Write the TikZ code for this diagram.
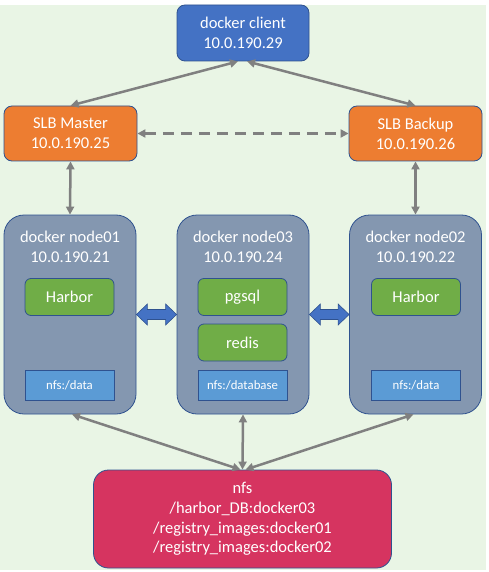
\documentclass[tikz,border=0pt]{standalone}
\usepackage{fontspec}
\setmainfont{Carlito}
\usetikzlibrary{arrows.meta,calc}
\definecolor{bgc}{RGB}{233,245,229}
\definecolor{bordc}{RGB}{47,82,143}
\definecolor{clientc}{RGB}{68,114,196}
\definecolor{slbc}{RGB}{237,125,49}
\definecolor{nodec}{RGB}{132,151,176}
\definecolor{greenc}{RGB}{112,173,71}
\definecolor{nfsbluec}{RGB}{91,155,213}
\definecolor{nfsc}{RGB}{214,52,96}
\definecolor{arrc}{RGB}{128,128,128}
\begin{document}
\begin{tikzpicture}[x=1pt,y=-1pt,
  box/.style={draw=bordc, line width=0.8pt, text=white, align=center, inner sep=0pt,
    font=\fontsize{16.5}{19.8}\selectfont},
  client/.style={box, fill=clientc, rounded corners=8pt, minimum width=132pt, minimum height=56pt},
  slb/.style={box, fill=slbc, rounded corners=8pt, minimum width=133pt, minimum height=55pt},
  host/.style={box, fill=nodec, rounded corners=20pt, minimum width=132pt, minimum height=199pt},
  title/.style={text=white, align=center, inner sep=0pt, font=\fontsize{16.5}{20.5}\selectfont},
  svc/.style={box, fill=greenc, rounded corners=6pt, minimum width=89pt, minimum height=37pt},
  mnt/.style={box, fill=nfsbluec, minimum width=89pt, minimum height=30pt, font=\fontsize{12.8}{15}\selectfont},
  store/.style={box, fill=nfsc, rounded corners=15pt, minimum width=298pt, minimum height=98pt},
  link/.style={draw=arrc, line width=2.5pt, {Triangle[length=8pt,width=8pt]}-{Triangle[length=8pt,width=8pt]}},
  blockarr/.style={draw=bordc, line width=0.6pt, fill=clientc, line join=miter}
]
\useasboundingbox (0,0) rectangle (488,572);
\fill[white] (0,0) rectangle (488,572);
\fill[bgc] (0,5) rectangle (486,570);

\node[client] (client) at (243,33) {docker client\\10.0.190.29};
\node[slb] (master) at (70.5,133.5) {SLB Master\\10.0.190.25};
\node[slb] (backup) at (415.5,133.5) {SLB Backup\\10.0.190.26};

\node[host] (n1) at (70,314.5) {};
\node[host] (n3) at (243,314.5) {};
\node[host] (n2) at (415.5,314.5) {};
\node[title] (t1) at (70,247) {docker node01\\10.0.190.21};
\node[title] (t3) at (243,247) {docker node03\\10.0.190.24};
\node[title] (t2) at (415.5,247) {docker node02\\10.0.190.22};

\node[svc] (harbor1) at (69.5,297) {Harbor};
\node[svc] (pgsql) at (242.5,297) {pgsql};
\node[svc] (redis) at (242.5,342.5) {redis};
\node[svc] (harbor2) at (416,297) {Harbor};

\node[mnt] (d1) at (69.5,385) {nfs:/data};
\node[mnt] (db) at (242.5,385) {nfs:/database};
\node[mnt] (d2) at (416,385) {nfs:/data};

\node[store] (nfs) at (242.5,519) {nfs\\/harbor\_DB:docker03\\/registry\_images:docker01\\/registry\_images:docker02};

\draw[link] ([xshift=-5pt]client.south) -- (master.north);
\draw[link] ([xshift=4pt]client.south) -- (backup.north);
\draw[link, dash pattern=on 11pt off 7pt] (master.east) -- (backup.west);
\draw[link] (master.south) -- (n1.north);
\draw[link] (backup.south) -- (n2.north);
\draw[link] ([xshift=2pt]n1.south) -- ([xshift=-2pt]nfs.north);
\draw[link] (n3.south) -- (nfs.north);
\draw[link] ([xshift=-2pt]n2.south) -- ([xshift=3pt]nfs.north);

\draw[blockarr] (n1.east) -- ++(11,-10.5) -- ++(0,5.5) -- ($(n3.west)+(-11,-5)$) -- ++(0,-5.5)
  -- (n3.west) -- ++(-11,10.5) -- ++(0,-5.5) -- ($(n1.east)+(11,5)$) -- ++(0,5.5) -- cycle;
\draw[blockarr] (n3.east) -- ++(11,-10.5) -- ++(0,5.5) -- ($(n2.west)+(-11,-5)$) -- ++(0,-5.5)
  -- (n2.west) -- ++(-11,10.5) -- ++(0,-5.5) -- ($(n3.east)+(11,5)$) -- ++(0,5.5) -- cycle;
\end{tikzpicture}
\end{document}
